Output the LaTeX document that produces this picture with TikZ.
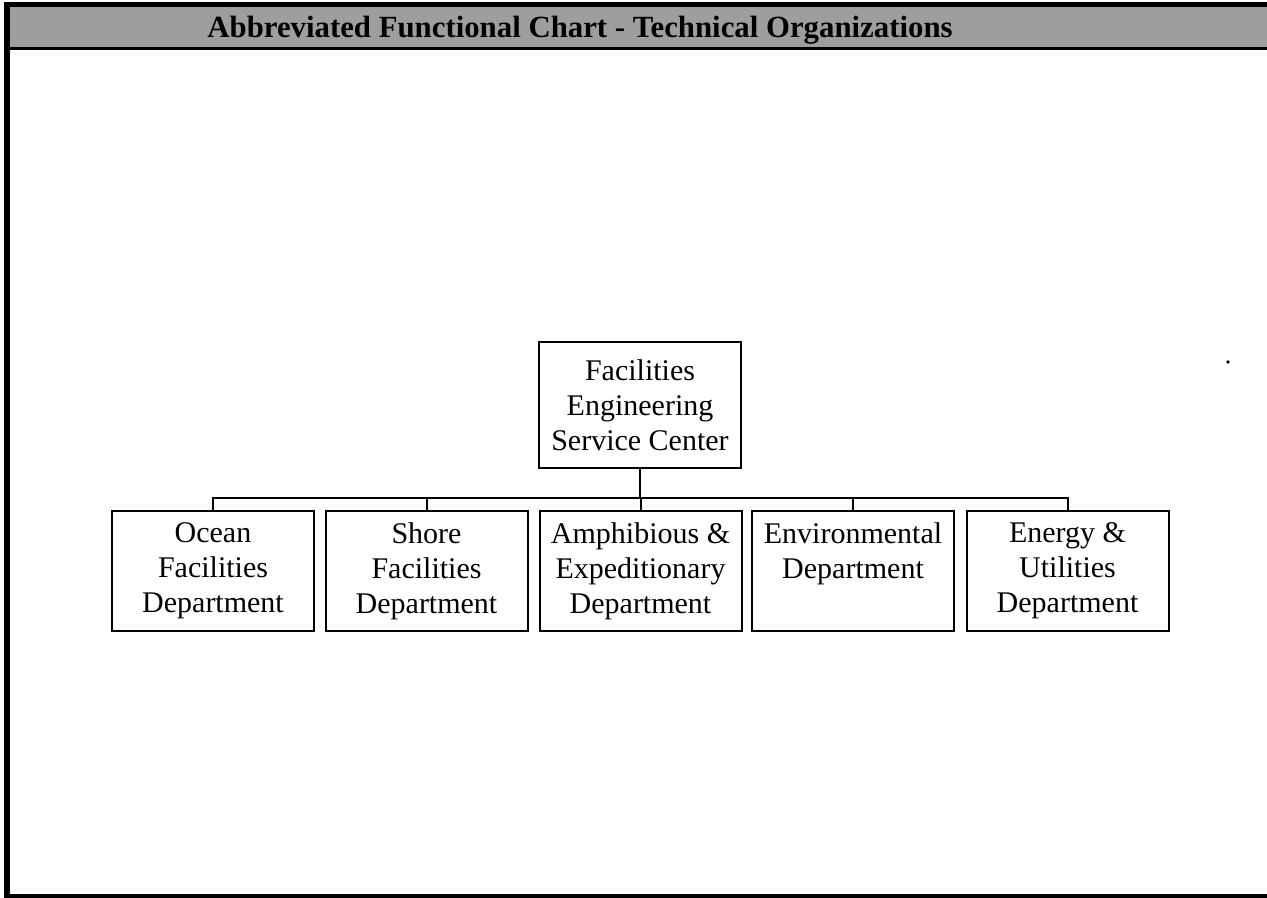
\documentclass[tikz,border=0pt]{standalone}
\usepackage{fontspec}
\setmainfont{Liberation Serif}
\begin{document}
\begin{tikzpicture}[x=0.5pt,y=-0.5pt,
  orgbox/.style={draw=black, line width=1pt, fill=white, align=center,
    minimum width=101pt, minimum height=60pt, inner sep=1pt,
    font=\fontsize{15}{17.5}\selectfont},
  link/.style={draw=black, line width=1pt},
  frame/.style={fill=black},
  banner/.style={fill=black!38}]
\useasboundingbox (0,0) rectangle (1267,898);
% frame and title banner
\fill[banner] (4,7) rectangle (1267,47);
\fill[frame] (4,2) rectangle (1267,7);
\fill[frame] (4,47) rectangle (1267,50);
\fill[frame] (4,2) rectangle (10,898);
\fill[frame] (4,894) rectangle (1267,898);
\node[anchor=base, inner sep=0pt, font=\fontsize{15.4}{18}\selectfont\bfseries] (title) at (580,38)
  {Abbreviated Functional Chart - Technical Organizations};
% boxes
\node[orgbox, minimum height=63pt] (fesc) at (640,405) {Facilities\\Engineering\\Service Center};
\node[orgbox] (ocean) at (213,571) {Ocean\\Facilities\\Department};
\node[orgbox] (shore) at (426.5,571) {Shore\\Facilities\\Department};
\node[orgbox] (amph) at (640.5,571) {Amphibious \&\\Expeditionary\\Department};
\node[orgbox] (env) at (853,571) {Environmental\\Department\\\vphantom{Department}};
\node[orgbox] (energy) at (1067.5,571) {Energy \&\\Utilities\\Department};
% connectors
\coordinate (bus) at (640,498);
\draw[link] (fesc.south) -- (fesc.south |- bus);
\draw[link] (ocean.north) -- (ocean.north |- bus) -- (energy.north |- bus) -- (energy.north);
\draw[link] (shore.north) -- (shore.north |- bus);
\draw[link] (amph.north) -- (amph.north |- bus);
\draw[link] (env.north) -- (env.north |- bus);
% stray mark
\fill (1228,362) circle[radius=0.9pt];
\end{tikzpicture}
\end{document}
